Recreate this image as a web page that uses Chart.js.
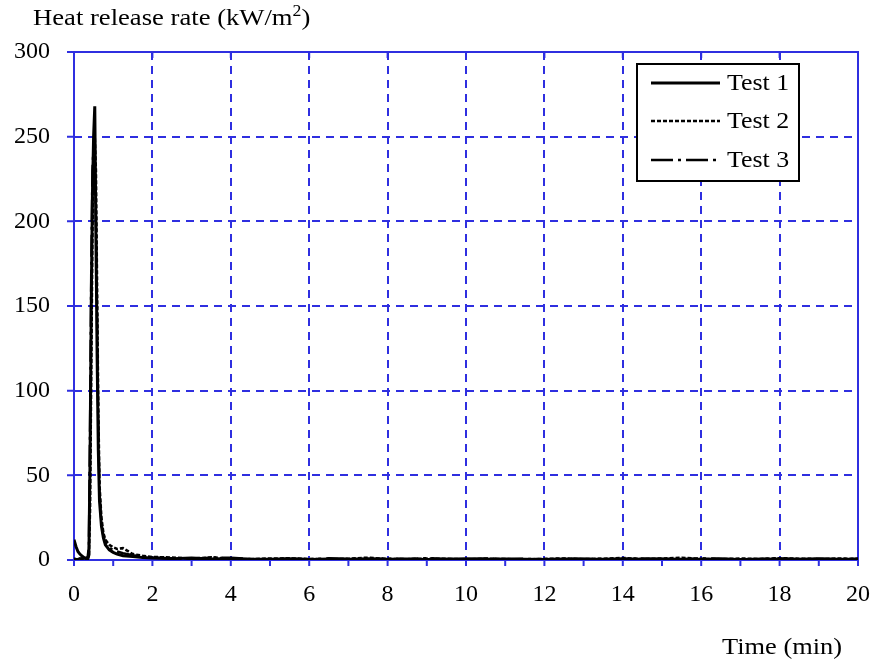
<!DOCTYPE html>
<html>
<head>
<meta charset="utf-8">
<script src="https://cdn.jsdelivr.net/npm/chart.js@4/dist/chart.umd.min.js"></script>
<style>
  body { margin: 0; background: #fff; }
  #wrap { width: 875px; height: 664px; }
</style>
</head>
<body>
<div id="wrap"><canvas id="myChart" width="875" height="664"></canvas></div>
<script>
// time in minutes
const times = [
    0, 0.05, 0.1, 0.15, 0.2, 0.25, 0.3, 0.35, 0.38, 0.41, 0.44, 0.47, 0.5, 0.53,
    0.56, 0.59, 0.62, 0.65, 0.7, 0.75, 0.8, 0.9, 1.0, 1.1, 1.25, 1.5, 1.75, 2.0,
    2.5, 3, 3.5, 4, 4.5, 5, 5.5, 6, 6.5, 7, 7.5, 8, 8.5, 9, 9.5, 10,
    10.5, 11, 11.5, 12, 12.5, 13, 13.5, 14, 14.5, 15, 15.5, 16, 16.5, 17,
    17.5, 18, 18.5, 19, 19.5, 20
];

const test1 = [
    12, 8, 5, 3.5, 2.5, 1.5, 1, 0.5, 3, 60, 150, 215, 250, 268,
    190, 120, 65, 35, 20, 13, 9, 6, 4.5, 3.5, 2.5, 2, 1.5, 1.2,
    0.8, 1.2, 0.6, 0.9, 0.4, 0.5, 0.7, 0.3, 0.6, 0.5, 0.8, 0.4, 0.6, 0.3,
    0.5, 0.7, 0.4, 0.6, 0.5, 0.3, 0.6, 0.4, 0.5, 0.7, 0.5, 0.6, 0.4, 0.5,
    0.6, 0.3, 0.5, 0.6, 0.4, 0.7, 0.5, 0.4
];

const test2 = [
    0.3, 0.3, 0.5, 0.5, 1, 1, 0.5, 1, 2, 30, 110, 190, 240, 250,
    230, 160, 90, 45, 25, 16, 12, 9, 7.5, 6.5, 7, 3.5, 2.5, 1.8,
    1.5, 0.8, 1.6, 0.7, 0.5, 0.9, 1.0, 0.6, 0.4, 0.8, 1.4, 0.6, 0.5, 0.9,
    0.7, 0.4, 0.8, 0.6, 0.3, 0.7, 0.9, 0.5, 0.8, 1.2, 0.6, 0.9, 1.3, 0.7,
    0.5, 0.9, 0.6, 1.1, 0.8, 0.5, 0.9, 0.7
];

const test3 = [
    1, 0.5, 0.5, 1, 0.5, 1, 1, 2, 8, 80, 170, 230, 245, 235,
    200, 140, 80, 40, 22, 14, 10, 7, 6, 5, 4, 2.8, 2, 1.5,
    1.0, 0.5, 1.5, 1.3, 0.6, 0.3, 0.8, 0.5, 1.0, 0.6, 0.4, 0.8, 0.5, 1.1,
    0.6, 0.4, 0.9, 0.5, 0.7, 0.4, 0.6, 0.8, 0.5, 0.4, 0.9, 0.6, 0.5, 1.0,
    0.7, 0.4, 0.6, 0.9, 0.5, 0.6, 0.4, 0.8
];

const seriesLabels = ['Test 1', 'Test 2', 'Test 3'];
const xTicks = [0, 2, 4, 6, 8, 10, 12, 14, 16, 18, 20];
const yTicks = [0, 50, 100, 150, 200, 250, 300];

const blue = '#2f2fe0';
const font = '"Liberation Serif", "Times New Roman", serif';

function toPoints(values) {
    return values.map((v, i) => ({ x: times[i], y: v }));
}

// text drawn a little wider than the font, like the original
function wideText(ctx, str, x, y, sx) {
    ctx.save();
    ctx.translate(x, y);
    ctx.scale(sx, 1);
    ctx.fillText(str, 0, 0);
    const w = ctx.measureText(str).width * sx;
    ctx.restore();
    return w;
}

// frame and tick marks
const framePlugin = {
    id: 'frame',
    beforeDatasetsDraw(chart) {
        const ctx = chart.ctx;
        const a = chart.chartArea;
        const xs = chart.scales.x;
        const ys = chart.scales.y;
        ctx.save();
        ctx.strokeStyle = blue;
        ctx.lineWidth = 2;
        ctx.setLineDash([]);
        ctx.strokeRect(a.left, a.top, a.right - a.left, a.bottom - a.top);
        ctx.beginPath();
        for (let m = 0; m <= 20; m++) {
            const px = xs.getPixelForValue(m);
            ctx.moveTo(px, a.bottom);
            ctx.lineTo(px, a.bottom + 6);
        }
        xTicks.forEach(t => {
            const px = xs.getPixelForValue(t);
            ctx.moveTo(px, a.top);
            ctx.lineTo(px, a.top + 6);
        });
        yTicks.forEach(t => {
            const py = ys.getPixelForValue(t);
            ctx.moveTo(a.left - 7, py);
            ctx.lineTo(a.left, py);
        });
        ctx.stroke();
        ctx.restore();
    },
    afterDraw(chart) {
        const ctx = chart.ctx;
        ctx.save();
        ctx.fillStyle = '#000';
        ctx.textBaseline = 'middle';
        ctx.textAlign = 'left';
        ctx.font = '24px ' + font;
        let x = 33;
        x += wideText(ctx, 'Heat release rate (kW/m', x, 19, 1.11);
        ctx.font = '16px ' + font;
        x += wideText(ctx, '2', x, 12, 1.11);
        ctx.font = '24px ' + font;
        wideText(ctx, ')', x, 19, 1.11);
        wideText(ctx, 'Time (min)', 722, 648, 1.1);

        // legend
        const bx = 637, by = 64, bw = 162, bh = 117;
        ctx.fillStyle = '#fff';
        ctx.fillRect(bx, by, bw, bh);
        ctx.strokeStyle = '#000';
        ctx.lineWidth = 2;
        ctx.setLineDash([]);
        ctx.strokeRect(bx, by, bw, bh);
        const rows = [83, 121, 160];
        chart.data.datasets.forEach((ds, i) => {
            ctx.beginPath();
            ctx.lineWidth = ds.borderWidth;
            ctx.setLineDash(ds.borderDash || []);
            ctx.moveTo(651, rows[i]);
            ctx.lineTo(720, rows[i]);
            ctx.stroke();
            ctx.setLineDash([]);
            ctx.fillStyle = '#000';
            wideText(ctx, ds.label, 727, rows[i] + 1, 1.08);
        });
        ctx.restore();
    }
};

const ctx = document.getElementById('myChart').getContext('2d');
const myChart = new Chart(ctx, {
    type: 'line',
    data: {
        datasets: [
            {
                label: seriesLabels[0],
                data: toPoints(test1),
                borderColor: '#000',
                borderWidth: 3,
                pointRadius: 0,
                tension: 0
            },
            {
                label: seriesLabels[1],
                data: toPoints(test2),
                borderColor: '#000',
                borderWidth: 2.5,
                borderDash: [4, 2],
                pointRadius: 0,
                tension: 0
            },
            {
                label: seriesLabels[2],
                data: toPoints(test3),
                borderColor: '#000',
                borderWidth: 2.5,
                borderDash: [22, 5, 3, 5],
                pointRadius: 0,
                tension: 0
            }
        ]
    },
    options: {
        responsive: false,
        animation: false,
        layout: { padding: { left: 0, top: 52, right: 17, bottom: 0 } },
        plugins: {
            legend: { display: false },
            tooltip: { enabled: false }
        },
        scales: {
            x: {
                type: 'linear',
                min: 0,
                max: 20,
                afterBuildTicks: axis => { axis.ticks = xTicks.map(v => ({ value: v })); },
                afterFit: axis => {
                    axis.height = 104;
                    axis.paddingLeft = 0;
                    axis.paddingRight = 0;
                },
                grid: {
                    color: blue,
                    lineWidth: 2,
                    drawTicks: false
                },
                border: { display: false, dash: [8, 6] },
                ticks: {
                    color: '#000',
                    font: { family: font, size: 24 },
                    padding: 20,
                    maxRotation: 0
                }
            },
            y: {
                min: 0,
                max: 300,
                afterBuildTicks: axis => { axis.ticks = yTicks.map(v => ({ value: v })); },
                afterFit: axis => {
                    axis.width = 74;
                    axis.paddingTop = 0;
                    axis.paddingBottom = 0;
                },
                grid: {
                    color: blue,
                    lineWidth: 2,
                    drawTicks: false
                },
                border: { display: false, dash: [8, 6] },
                ticks: {
                    color: '#000',
                    font: { family: font, size: 24 },
                    padding: 24
                }
            }
        }
    },
    plugins: [framePlugin]
});
</script>
</body>
</html>
